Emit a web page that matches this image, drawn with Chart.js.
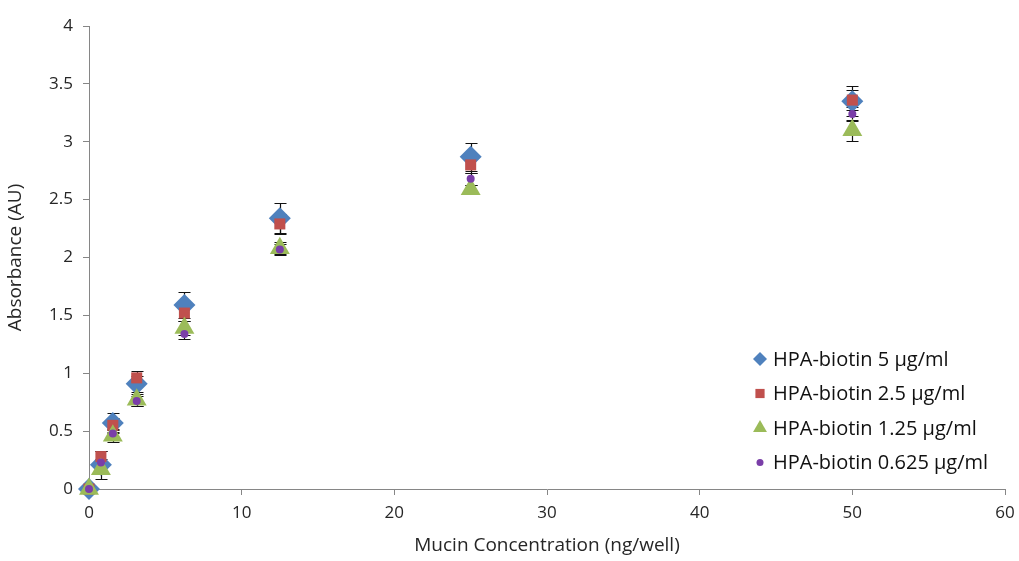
<!DOCTYPE html>
<html>
<head>
<meta charset="utf-8">
<script src="https://cdn.jsdelivr.net/npm/chart.js@4/dist/chart.umd.min.js"></script>
<style>
  html, body { margin: 0; padding: 0; background: #fff; }
  #wrap { width: 1019px; height: 561px; }
</style>
</head>
<body>
<div id="wrap"><canvas id="absChart"></canvas></div>
<script>
// mucin amounts (ng/well)
var mucin = [0, 0.78, 1.56, 3.125, 6.25, 12.5, 25, 50];

var labels = ['HPA-biotin 5 µg/ml', 'HPA-biotin 2.5 µg/ml', 'HPA-biotin 1.25 µg/ml', 'HPA-biotin 0.625 µg/ml'];

var hpa5 = [0.00, 0.21, 0.57, 0.91, 1.59, 2.34, 2.87, 3.35];
var hpa25 = [0.00, 0.28, 0.55, 0.96, 1.52, 2.29, 2.80, 3.36];
var hpa125 = [0.00, 0.17, 0.46, 0.77, 1.39, 2.08, 2.59, 3.10];
var hpa0625 = [0.00, 0.23, 0.48, 0.76, 1.34, 2.07, 2.68, 3.24];

var err5 = [0.02, 0.12, 0.09, 0.07, 0.11, 0.13, 0.12, 0.13];
var err25 = [0.02, 0.05, 0.06, 0.06, 0.07, 0.09, 0.07, 0.09];
var err125 = [0.02, 0.04, 0.05, 0.05, 0.06, 0.05, 0.04, 0.09];
var err0625 = [0.01, 0.03, 0.04, 0.04, 0.04, 0.05, 0.05, 0.06];

var xTicks = [0, 10, 20, 30, 40, 50, 60];
var yTicks = [0, 0.5, 1, 1.5, 2, 2.5, 3, 3.5, 4];

var FONT = '"Open Sans", Lato, sans-serif';

function pts(ys) {
    return ys.map(function (v, i) { return { x: mucin[i], y: v }; });
}

var series = [
    { values: hpa5, errs: err5, color: '#4F81BD', style: 'rectRot', r: 11, lr: 7 },
    { values: hpa25, errs: err25, color: '#C0504D', style: 'rect', r: 7.8, lr: 6.5 },
    { values: hpa125, errs: err125, color: '#9BBB59', style: 'triangle', r: 11.5, lr: 8 },
    { values: hpa0625, errs: err0625, color: '#7a3ea8', style: 'circle', r: 4, lr: 3.5 }
];

// black error bars with caps, under the markers like excel
var errorBars = {
    id: 'errorBars',
    beforeDatasetsDraw: function (chart) {
        var ctx = chart.ctx, xs = chart.scales.x, ys = chart.scales.y;
        ctx.save();
        ctx.strokeStyle = '#111';
        ctx.lineWidth = 1.2;
        series.forEach(function (s) {
            s.values.forEach(function (v, i) {
                var px = Math.round(xs.getPixelForValue(mucin[i])) + 0.5;
                var top = Math.round(ys.getPixelForValue(v + s.errs[i])) + 0.5;
                var bot = Math.round(ys.getPixelForValue(v - s.errs[i])) + 0.5;
                ctx.beginPath();
                ctx.moveTo(px, top); ctx.lineTo(px, bot);
                ctx.moveTo(px - 6, top); ctx.lineTo(px + 6, top);
                ctx.moveTo(px - 6, bot); ctx.lineTo(px + 6, bot);
                ctx.stroke();
            });
        });
        ctx.restore();
    }
};

// legend inside plot, bottom right
var insideLegend = {
    id: 'insideLegend',
    afterDraw: function (chart) {
        var ctx = chart.ctx;
        var x0 = 760, y0 = 359, gap = 34.5;
        ctx.save();
        ctx.font = '20px ' + FONT;
        ctx.textBaseline = 'middle';
        series.forEach(function (s, i) {
            var y = y0 + i * gap;
            ctx.fillStyle = s.color;
            ctx.strokeStyle = s.color;
            Chart.helpers.drawPoint(ctx, { pointStyle: s.style, radius: s.lr, rotation: 0, borderWidth: 0 }, x0, y);
            ctx.fillStyle = '#111';
            ctx.fillText(labels[i], x0 + 13, y + 1);
        });
        ctx.restore();
    }
};

var datasets = series.map(function (s, i) {
    return {
        label: labels[i],
        data: pts(s.values),
        backgroundColor: s.color,
        borderColor: s.color,
        borderWidth: 0,
        pointStyle: s.style,
        pointRadius: s.r,
        pointHoverRadius: s.r,
        showLine: false,
        clip: false,
        order: 4 - i
    };
});

new Chart(document.getElementById('absChart'), {
    type: 'scatter',
    data: { datasets: datasets },
    plugins: [errorBars, insideLegend],
    options: {
        responsive: true,
        maintainAspectRatio: false,
        animation: false,
        layout: { padding: { top: 26, right: 14, left: 0, bottom: 0 } },
        plugins: {
            legend: { display: false },
            tooltip: { enabled: false }
        },
        scales: {
            x: {
                type: 'linear',
                min: 0, max: 60,
                afterBuildTicks: function (ax) { ax.ticks = xTicks.map(function (v) { return { value: v }; }); },
                afterFit: function (ax) { ax.height = 72; ax.paddingRight = 0; ax.paddingLeft = 0; },
                grid: { drawOnChartArea: false, color: '#868686', tickLength: 6 },
                border: { color: '#868686', width: 1 },
                ticks: { color: '#262626', font: { family: FONT, size: 17 }, padding: 8, maxRotation: 0,
                         callback: function (v) { return String(v); } },
                title: { display: true, text: 'Mucin Concentration (ng/well)', color: '#262626', font: { family: FONT, size: 19 }, padding: { top: 0 } }
            },
            y: {
                type: 'linear',
                min: 0, max: 4,
                afterBuildTicks: function (ax) { ax.ticks = yTicks.map(function (v) { return { value: v }; }); },
                afterFit: function (ax) { ax.width = 89; },
                grid: { drawOnChartArea: false, color: '#868686', tickLength: 6 },
                border: { color: '#868686', width: 1 },
                ticks: { color: '#262626', font: { family: FONT, size: 17 }, padding: 10,
                         callback: function (v) { return String(v); } },
                title: { display: true, text: 'Absorbance (AU)', color: '#262626', font: { family: FONT, size: 19 }, padding: { bottom: 0 } }
            }
        }
    }
});
</script>
</body>
</html>
